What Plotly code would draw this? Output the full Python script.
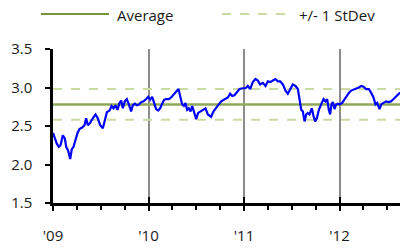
import plotly.graph_objects as go

# ---- data (decimal years, values) ----
years = [
    2009.000, 2009.016, 2009.040, 2009.061, 2009.079, 2009.103, 2009.124, 2009.138, 2009.159, 2009.180,
    2009.197, 2009.215, 2009.236, 2009.257, 2009.277, 2009.305, 2009.330, 2009.347, 2009.365, 2009.389,
    2009.417, 2009.445, 2009.469, 2009.494, 2009.522, 2009.543, 2009.564, 2009.592, 2009.613, 2009.634,
    2009.654, 2009.675, 2009.696, 2009.714, 2009.731, 2009.752, 2009.773, 2009.794, 2009.818, 2009.836,
    2009.857, 2009.878, 2009.899, 2009.923, 2009.948, 2009.976, 2009.997, 2010.017, 2010.038, 2010.059,
    2010.080, 2010.101, 2010.122, 2010.143, 2010.164, 2010.185, 2010.213, 2010.237, 2010.262, 2010.290,
    2010.314, 2010.335, 2010.353, 2010.370, 2010.387, 2010.405, 2010.422, 2010.440, 2010.457, 2010.475,
    2010.499, 2010.520,
    2010.534, 2010.569, 2010.597, 2010.621, 2010.656, 2010.681, 2010.709, 2010.736, 2010.761, 2010.796,
    2010.831, 2010.855, 2010.876, 2010.900, 2010.925, 2010.953, 2010.988, 2011.016, 2011.040, 2011.065,
    2011.092, 2011.120, 2011.145, 2011.169, 2011.197, 2011.225, 2011.250, 2011.274, 2011.302, 2011.330,
    2011.354, 2011.379, 2011.407, 2011.435, 2011.459, 2011.484, 2011.511, 2011.539, 2011.564, 2011.581,
    2011.599, 2011.616, 2011.634, 2011.651, 2011.668, 2011.686, 2011.710, 2011.728, 2011.745, 2011.763,
    2011.784, 2011.808, 2011.833, 2011.853, 2011.871, 2011.888, 2011.902, 2011.916, 2011.930, 2011.948,
    2011.965, 2011.983, 2012.000, 2012.028, 2012.052, 2012.077, 2012.098, 2012.122, 2012.147, 2012.175,
    2012.203, 2012.227, 2012.251, 2012.279, 2012.307, 2012.332, 2012.356, 2012.377, 2012.395, 2012.419,
    2012.437, 2012.461, 2012.489, 2012.517, 2012.541, 2012.566, 2012.594, 2012.622, 2012.650,
]
values = [
    2.41, 2.34, 2.27, 2.23, 2.25, 2.38, 2.34, 2.23, 2.18, 2.07,
    2.20, 2.23, 2.32, 2.41, 2.46, 2.48, 2.51, 2.60, 2.51, 2.54,
    2.60, 2.65, 2.60, 2.51, 2.47, 2.58, 2.68, 2.70, 2.76, 2.73,
    2.77, 2.71, 2.80, 2.83, 2.73, 2.82, 2.85, 2.78, 2.69, 2.77,
    2.79, 2.77, 2.78, 2.81, 2.82, 2.85, 2.88, 2.84, 2.88, 2.80,
    2.72, 2.70, 2.73, 2.79, 2.84, 2.85, 2.85, 2.87, 2.91, 2.94,
    2.98, 2.87, 2.78, 2.76, 2.80, 2.71, 2.73, 2.69, 2.76, 2.69,
    2.59, 2.67,
    2.68, 2.71, 2.73, 2.65, 2.62, 2.69, 2.73, 2.78, 2.82, 2.85,
    2.87, 2.92, 2.89, 2.90, 2.94, 2.98, 2.99, 2.99, 3.02, 2.98,
    3.07, 3.11, 3.09, 3.04, 3.06, 3.02, 3.08, 3.07, 3.09, 3.11,
    3.08, 3.08, 3.04, 2.96, 2.92, 2.98, 3.04, 3.02, 2.98, 2.85,
    2.71, 2.69, 2.56, 2.65, 2.67, 2.65, 2.73, 2.63, 2.56, 2.60,
    2.71, 2.78, 2.85, 2.82, 2.85, 2.71, 2.65, 2.78, 2.81, 2.72,
    2.78, 2.79, 2.78, 2.80, 2.85, 2.89, 2.93, 2.96, 2.97, 2.99,
    3.00, 3.02, 3.01, 2.98, 2.98, 2.93, 2.87, 2.78, 2.80, 2.72,
    2.78, 2.80, 2.82, 2.81, 2.82, 2.85, 2.89, 2.92, 2.94,
]
AVERAGE = 2.78
STDEV = 0.20
x_span = [2009.0, 2012.7]
tick_years = [2009, 2010, 2011, 2012]
tick_labels = ["'09", "'10", "'11", "'12"]
y_ticks = [1.5, 2.0, 2.5, 3.0, 3.5]
legend_labels = ["Average", "+/- 1 StDev"]

FONT = "Open Sans"
AVG_COLOR = "#8FA85A"
SD_COLOR = "#C9DAA3"
TXT = "#1a1a1a"

fig = go.Figure()
fig.add_trace(go.Scatter(x=x_span, y=[AVERAGE - STDEV] * 2, mode="lines",
                         line=dict(color=SD_COLOR, width=2, dash="dash"), hoverinfo="skip"))
fig.add_trace(go.Scatter(x=x_span, y=[AVERAGE + STDEV] * 2, mode="lines",
                         line=dict(color=SD_COLOR, width=2, dash="dash"), hoverinfo="skip"))
fig.add_trace(go.Scatter(x=x_span, y=[AVERAGE] * 2, mode="lines",
                         line=dict(color=AVG_COLOR, width=2.5), hoverinfo="skip"))
fig.add_trace(go.Scatter(x=years, y=values, mode="lines",
                         line=dict(color="#0000FF", width=2.2)))
# invisible trace to anchor overlay axis for crossing major ticks
fig.add_trace(go.Scatter(x=x_span, y=[None, None], xaxis="x2", mode="lines",
                         showlegend=False, hoverinfo="skip"))

x_end = 2009 + 347 / 95.5

fig.update_layout(
    width=400, height=248,
    margin=dict(l=53, r=0, t=49, b=45),
    paper_bgcolor="white", plot_bgcolor="white",
    showlegend=False,
    font=dict(family=FONT, size=15, color=TXT),
    xaxis=dict(
        range=[2009, x_end], tickvals=tick_years, ticktext=tick_labels,
        showline=True, linecolor="black", linewidth=2.5,
        ticks="outside", ticklen=5, tickwidth=2, tickcolor="black",
        showgrid=True, gridcolor="#8C8C8C", gridwidth=2,
        zeroline=False, ticklabelstandoff=12, automargin=False,
        tickfont=dict(family=FONT, size=15, color=TXT),
        minor=dict(tick0=2009, dtick=0.25, ticks="outside", ticklen=4,
                   tickwidth=1.5, tickcolor="black", showgrid=False),
    ),
    xaxis2=dict(
        range=[2009, x_end], overlaying="x", side="bottom", anchor="y",
        tickvals=tick_years, showticklabels=False, ticks="inside",
        ticklen=6, tickwidth=2, tickcolor="black", showgrid=False,
        showline=False, zeroline=False, automargin=False,
    ),
    yaxis=dict(
        range=[1.5, 3.5], tickvals=y_ticks, tickformat=".1f",
        showline=True, linecolor="black", linewidth=2.5,
        ticks="outside", ticklen=5, tickwidth=2, tickcolor="black",
        showgrid=False, zeroline=False, ticklabelstandoff=10, automargin=False,
        tickfont=dict(family=FONT, size=15, color=TXT),
    ),
)

# manual legend (paper coordinates)
def px_x(p):
    return (p - 53) / 347.0

def px_y(p):
    return 1 + (49 - p) / 154.0

fig.add_shape(type="line", xref="paper", yref="paper",
              x0=px_x(41), x1=px_x(109), y0=px_y(14), y1=px_y(14),
              line=dict(color="#77933C", width=2))
fig.add_shape(type="line", xref="paper", yref="paper",
              x0=px_x(222), x1=px_x(290), y0=px_y(14), y1=px_y(14),
              line=dict(color=SD_COLOR, width=2, dash="dash"))
fig.add_annotation(xref="paper", yref="paper", x=px_x(115), y=px_y(15),
                   text=legend_labels[0], showarrow=False, xanchor="left", yanchor="middle",
                   font=dict(family=FONT, size=15, color=TXT))
fig.add_annotation(xref="paper", yref="paper", x=px_x(297), y=px_y(15),
                   text=legend_labels[1], showarrow=False, xanchor="left", yanchor="middle",
                   font=dict(family=FONT, size=15, color=TXT))

fig.write_html("out.html", config={"displayModeBar": False},
               post_script="document.body.style.margin='0px';document.body.style.overflow='hidden';")
